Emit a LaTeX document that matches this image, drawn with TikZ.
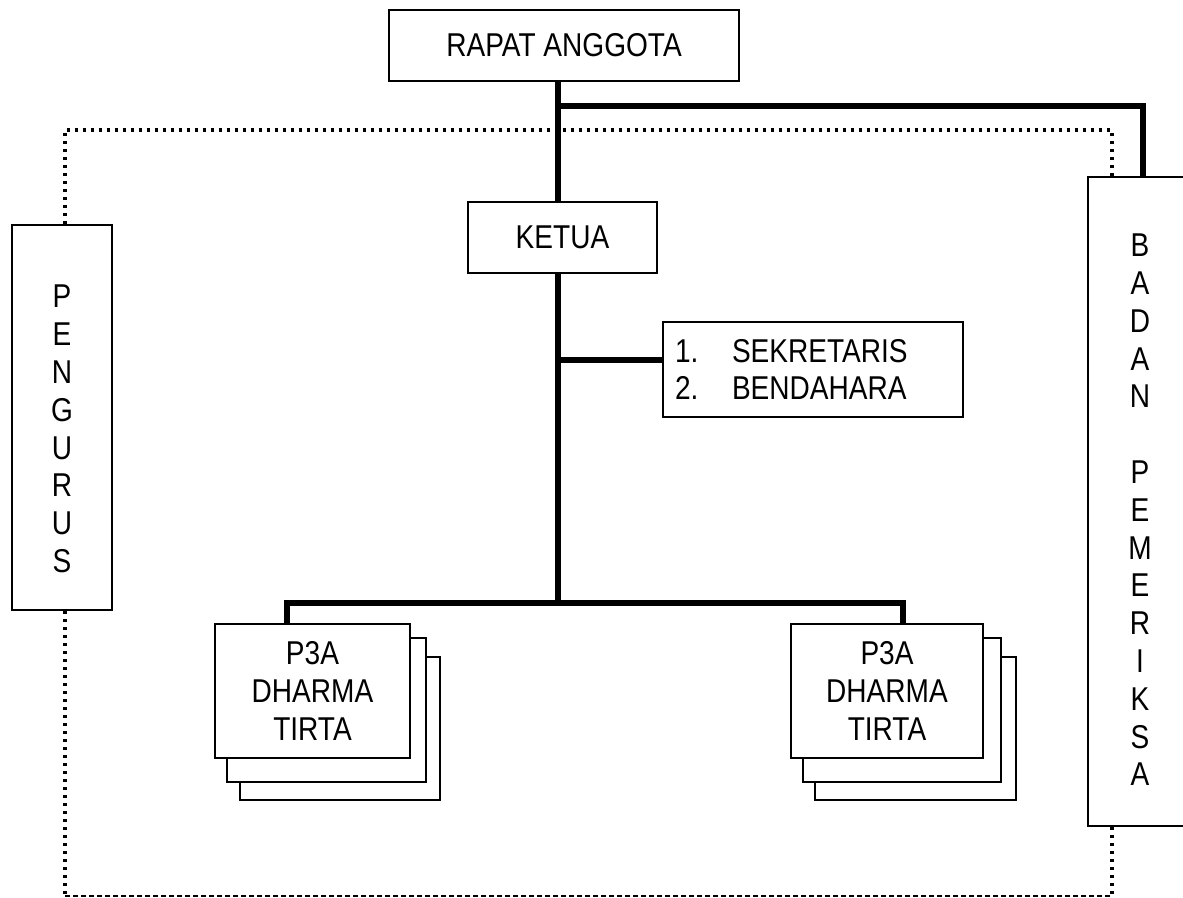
\documentclass[tikz,border=0pt]{standalone}
\usepackage{fontspec}
\setmainfont[FakeStretch=0.85]{Liberation Sans}
\begin{document}
\begin{tikzpicture}[x=1pt,y=-1pt,
  box/.style={draw,line width=1.6pt,fill=white,inner sep=0pt,rectangle,anchor=center},
  lbl/.style={font=\fontsize{33}{37.8}\selectfont,align=center,inner sep=0pt},
  thick line/.style={line width=5.5pt},
  dotline/.style={line width=3.5pt,dash pattern=on 3.5pt off 4.5pt},
  dashline/.style={line width=1.3pt,dash pattern=on 5pt off 3pt}]
\useasboundingbox (0,0) rectangle (1183,897);
\clip (0,0) rectangle (1183,897);

% boxes
\node[box,minimum width=350pt,minimum height=71pt,font=\fontsize{33}{37.8}\selectfont] (rapat) at (564,45.5) {RAPAT ANGGOTA};
\node[box,minimum width=189pt,minimum height=71pt,font=\fontsize{33}{37.8}\selectfont] (ketua) at (562.5,237.5) {KETUA};
\node[box,minimum width=300pt,minimum height=95pt,text width=276pt,inner xsep=12pt,align=left,font=\fontsize{33}{37.8}\selectfont] (sek) at (813,369.5)
  {\makebox[57pt][l]{1.}SEKRETARIS\\\makebox[57pt][l]{2.}BENDAHARA};
\node[box,minimum width=100pt,minimum height=385pt] (peng) at (62,417.5) {};
\node[lbl] (pengT) at (62,429) {P\\E\\N\\G\\U\\R\\U\\S};
\node[box,minimum width=107pt,minimum height=649pt] (badan) at (1141.5,501.5) {};
\node[lbl] (badanT) at (1140,510) {B\\A\\D\\A\\N\\\mbox{}\\P\\E\\M\\E\\R\\I\\K\\S\\A};

% P3A stacks
\node[box,minimum width=200pt,minimum height=143pt] (pL3) at (340,728.5) {};
\node[box,minimum width=199pt,minimum height=144pt] (pL2) at (326.5,710) {};
\node[box,minimum width=195pt,minimum height=134pt,lbl,draw,fill=white] (pL) at (312.5,691) {P3A\\DHARMA\\TIRTA};
\node[box,minimum width=201pt,minimum height=143pt] (pR3) at (915.5,728.5) {};
\node[box,minimum width=198pt,minimum height=144pt] (pR2) at (902,710) {};
\node[box,minimum width=192pt,minimum height=134pt,lbl,draw,fill=white] (pR) at (887,691) {P3A\\DHARMA\\TIRTA};

% helper coordinates
\coordinate (sp) at (558,0);
\coordinate (dl) at (65,0);
\coordinate (dr) at (1112,0);
\coordinate (dTL) at (65,130);
\coordinate (dTR) at (1112,130);
\coordinate (dBL) at (65,896);
\coordinate (dBR) at (1112,896);
\coordinate (jB) at (558,106);
\coordinate (bp) at (1143,106);
\coordinate (jS) at (558,360);
\coordinate (jN) at (558,603);
\coordinate (hL) at (287,603);
\coordinate (hR) at (903,603);

% dotted / dashed frame
\draw[dotline] (peng.north -| dl) -- (dTL) -- (dTR) -- (badan.north -| dr);
\draw[dotline] (peng.south -| dl) -- (dBL);
\draw[dotline] (badan.south -| dr) -- (dBR);
\draw[dashline] (dBL) -- (dBR);

% solid connectors
\draw[thick line] (rapat.south -| sp) -- (ketua.north -| sp);
\draw[thick line] (ketua.south -| sp) -- (jN);
\draw[thick line] (jB) -- (bp) -- (badan.north -| bp);
\draw[thick line] (jS) -- (sek.west |- jS);
\draw[thick line] (pL.north -| hL) -- (hL) -- (hR) -- (pR.north -| hR);
\end{tikzpicture}
\end{document}
